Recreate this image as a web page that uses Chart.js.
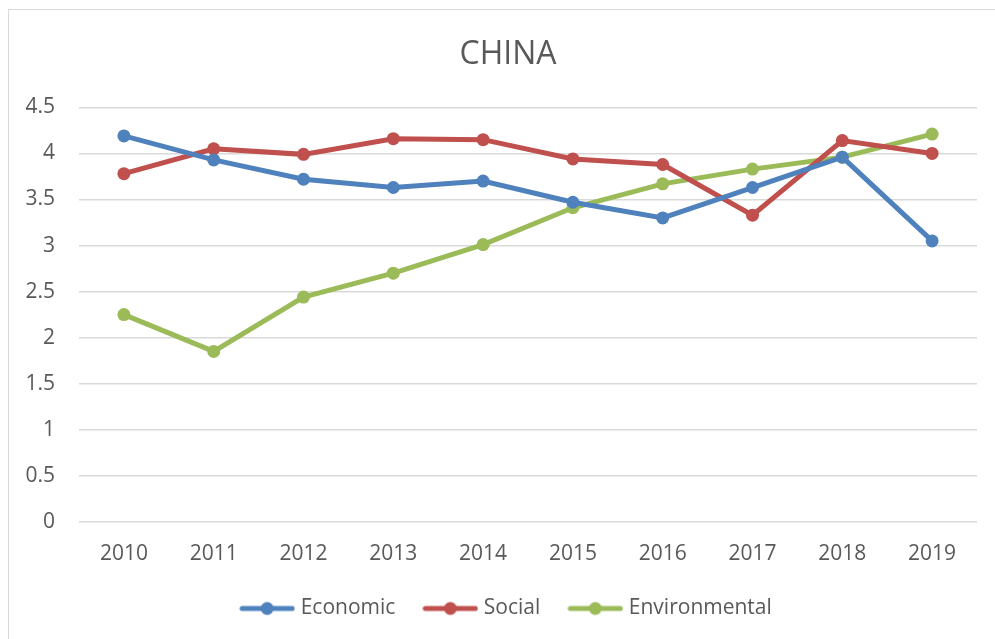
<!DOCTYPE html>
<html>
<head>
<meta charset="utf-8">
<title>CHINA</title>
<script src="https://cdn.jsdelivr.net/npm/chart.js@4.4.1/dist/chart.umd.min.js"></script>
<style>
    html, body { margin: 0; padding: 0; background: #fff; overflow: hidden; }
    #marco {
        position: absolute; left: 8px; top: 9px; width: 1000px; height: 700px;
        border: 1px solid #d9d9d9; pointer-events: none;
    }
    #contenedor { position: absolute; left: 0; top: 0; width: 1016px; height: 639px; }
</style>
</head>
<body>
<div id="contenedor"><canvas id="grafica"></canvas></div>
<div id="marco"></div>
<script>
// Datos
const anios = ['2010', '2011', '2012', '2013', '2014', '2015', '2016', '2017', '2018', '2019'];
const economico = [4.19, 3.93, 3.72, 3.63, 3.70, 3.47, 3.30, 3.63, 3.96, 3.05];
const social = [3.78, 4.05, 3.99, 4.16, 4.15, 3.94, 3.88, 3.33, 4.14, 4.00];
const ambiental = [2.25, 1.85, 2.44, 2.70, 3.01, 3.41, 3.67, 3.83, 3.96, 4.21];

const colorTexto = '#595959';
const fuente = "'Open Sans', 'Noto Sans', sans-serif";

// Icono de leyenda: linea con circulo al centro (estilo Excel)
function iconoLeyenda(color) {
    const c = document.createElement('canvas');
    c.width = 56;
    c.height = 16;
    const g = c.getContext('2d');
    g.strokeStyle = color;
    g.lineWidth = 5;
    g.lineCap = 'round';
    g.beginPath();
    g.moveTo(3, 8);
    g.lineTo(53, 8);
    g.stroke();
    g.fillStyle = color;
    g.beginPath();
    g.arc(28, 8, 6.5, 0, Math.PI * 2);
    g.fill();
    return c;
}

function serie(nombre, datos, color) {
    return {
        label: nombre,
        data: datos,
        borderColor: color,
        backgroundColor: color,
        borderWidth: 5,
        pointRadius: 6.5,
        pointHoverRadius: 6.5,
        pointBorderWidth: 0,
        pointBackgroundColor: color,
        pointStyle: 'circle',
        tension: 0,
        fill: false
    };
}

const ctx = document.getElementById('grafica').getContext('2d');
const grafica = new Chart(ctx, {
    type: 'line',
    data: {
        labels: anios,
        datasets: [
            serie('Economic', economico, '#4f81bd'),
            serie('Social', social, '#c0504d'),
            serie('Environmental', ambiental, '#9bbb59')
        ]
    },
    options: {
        responsive: true,
        maintainAspectRatio: false,
        animation: false,
        layout: { padding: { left: 0, right: 0, top: 0, bottom: 10 } },
        scales: {
            x: {
                offset: true,
                afterFit: (escala) => { escala.height = escala.height - 21; },
                grid: { display: false, drawTicks: false },
                border: { display: false },
                ticks: { color: colorTexto, font: { family: fuente, size: 21 }, padding: 20, maxRotation: 0 }
            },
            y: {
                min: 0,
                max: 4.5,
                afterFit: (escala) => { escala.width = 79; },
                grid: { color: '#d9d9d9', lineWidth: 1.5, drawTicks: false },
                border: { display: false },
                ticks: {
                    stepSize: 0.5,
                    color: colorTexto,
                    font: { family: fuente, size: 21 },
                    padding: 24,
                    callback: (v) => String(Math.round(v * 10) / 10)
                }
            },
            // eje vacio a la derecha, solo para dejar margen
            margen: {
                position: 'right',
                min: 0,
                max: 4.5,
                afterFit: (escala) => { escala.width = 39; },
                grid: { display: false, drawTicks: false },
                border: { display: false },
                ticks: { display: false }
            }
        },
        plugins: {
            title: {
                display: true,
                text: 'CHINA',
                color: colorTexto,
                font: { family: fuente, size: 32, weight: 'normal' },
                padding: { top: 36, bottom: 33 }
            },
            legend: {
                position: 'bottom',
                labels: {
                    usePointStyle: true,
                    pointStyleWidth: 46,
                    color: colorTexto,
                    font: { family: fuente, size: 21 },
                    padding: 32,
                    generateLabels: (chart) => chart.data.datasets.map((ds, i) => ({
                        text: ds.label,
                        fillStyle: ds.borderColor,
                        strokeStyle: ds.borderColor,
                        fontColor: colorTexto,
                        lineWidth: 0,
                        pointStyle: iconoLeyenda(ds.borderColor),
                        hidden: !chart.isDatasetVisible(i),
                        datasetIndex: i
                    }))
                }
            },
            tooltip: { enabled: false }
        }
    }
});
</script>
</body>
</html>
